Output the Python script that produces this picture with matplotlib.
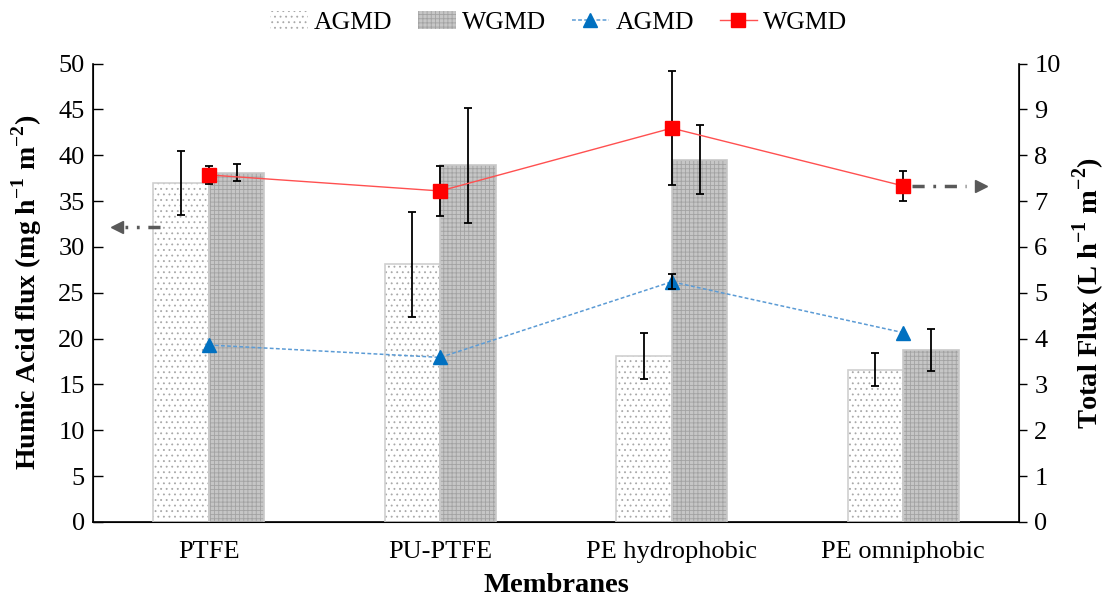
import matplotlib
matplotlib.use("Agg")
import matplotlib.pyplot as plt
import numpy as np
from matplotlib.patches import Patch
from matplotlib.lines import Line2D

plt.rcParams['font.family'] = ['Liberation Serif', 'DejaVu Serif']
plt.rcParams['mathtext.fontset'] = 'custom'
plt.rcParams['mathtext.rm'] = 'Liberation Serif'
plt.rcParams['mathtext.bf'] = 'Liberation Serif:bold'
plt.rcParams['hatch.linewidth'] = 0.6

categories = ["PTFE", "PU-PTFE", "PE hydrophobic", "PE omniphobic"]
ha_agmd = [37.0, 28.1, 18.1, 16.6]
ha_agmd_err = [3.5, 5.7, 2.5, 1.8]
ha_wgmd = [38.1, 38.9, 39.5, 18.8]
ha_wgmd_err = [0.95, 6.3, 3.75, 2.3]
tf_agmd = [3.86, 3.59, 5.24, 4.13]
tf_agmd_err = [0.0, 0.0, 0.16, 0.0]
tf_wgmd = [7.57, 7.22, 8.59, 7.33]
tf_wgmd_err = [0.19, 0.55, 1.25, 0.32]

FS_TICK = 19
FS_LAB = 20.5

fig = plt.figure(figsize=(11.09, 6.01), dpi=100)
ax = fig.add_axes([93/1109, 1-522/601, (1019-93)/1109, (522-63.5)/601])
ax2 = ax.twinx()

x = np.arange(len(categories))
w = 0.24
agmd_face, agmd_hatch = 'white', '#a8a8a8'
wgmd_face, wgmd_hatch = '#c6c6c6', '#a2a2a2'
ax.bar(x - w/2, ha_agmd, w, color=agmd_face, edgecolor=agmd_hatch, hatch='...', linewidth=0, zorder=2)
ax.bar(x - w/2, ha_agmd, w, fill=False, edgecolor='#d0d0d0', linewidth=1.2, zorder=3)
ax.bar(x + w/2, ha_wgmd, w, color=wgmd_face, edgecolor=wgmd_hatch, hatch='++++', linewidth=0, zorder=2)
ax.bar(x + w/2, ha_wgmd, w, fill=False, edgecolor='#c8c8c8', linewidth=1.2, zorder=3)
ekw = dict(fmt='none', ecolor='black', elinewidth=1.3, capsize=3, capthick=1.3)
ax.errorbar(x - w/2, ha_agmd, yerr=ha_agmd_err, zorder=4, **ekw)
ax.errorbar(x + w/2, ha_wgmd, yerr=ha_wgmd_err, zorder=4, **ekw)

ax.set_xlim(-0.5, 3.5)
ax.set_ylim(0, 50)
ax.set_yticks(np.arange(0, 51, 5))
ax.set_xticks(x)
ax.set_xticklabels(categories, fontsize=FS_TICK)
ax.tick_params(axis='x', length=0, pad=14)
ax.tick_params(axis='y', direction='in', length=7, labelsize=FS_TICK, width=1, pad=6)
ax.spines['top'].set_visible(False)
ax2.spines['top'].set_visible(False)
for s in ['left', 'bottom']:
    ax.spines[s].set_linewidth(1.2)
ax2.spines['right'].set_linewidth(1.2)

ax2.set_ylim(0, 10)
ax2.set_yticks(np.arange(0, 11, 1))
ax2.tick_params(axis='y', direction='out', length=6, labelsize=FS_TICK, width=1, pad=5)
ax2.plot(x, tf_agmd, color='#5b9bd5', linestyle=(0, (2.5, 1.5)), linewidth=1.1, zorder=5)
ax2.plot(x, tf_agmd, linestyle='none', marker='^', markersize=10, color='#0070c0', zorder=6)
err_a = np.array(tf_agmd_err)
has_err = err_a > 0
ax2.errorbar(x[has_err], np.array(tf_agmd)[has_err], yerr=err_a[has_err], zorder=6, **ekw)
ax2.errorbar(x, tf_wgmd, yerr=tf_wgmd_err, zorder=5, **ekw)
ax2.plot(x, tf_wgmd, color='#ff5050', linewidth=1.0, zorder=5)
ax2.plot(x, tf_wgmd, linestyle='none', marker='s', markersize=10, color='#ff0000', zorder=7)

# axis-pointing arrows (dash-dot with head)
arrow_col = '#595959'
ls_arrow = (0, (3.5, 2.5, 0.8, 2.5))
ax.plot([-0.21, -0.36], [32.2, 32.2], color=arrow_col, linewidth=2.5, linestyle=ls_arrow,
        solid_capstyle='butt', dash_capstyle='butt', zorder=5)
ax.plot([-0.395], [32.2], marker='<', markersize=8, color=arrow_col, linestyle='none', zorder=5)
ax2.plot([3.037, 3.27], [7.33, 7.33], color=arrow_col, linewidth=2.5, linestyle=ls_arrow,
         solid_capstyle='butt', dash_capstyle='butt', zorder=5)
ax2.plot([3.335], [7.33], marker='>', markersize=8, color=arrow_col, linestyle='none', zorder=5)

ax.set_ylabel(r'Humic Acid flux (mg h$^{\mathbf{-1}}$ m$^{\mathbf{-2}}$)', fontsize=20, fontweight='bold', labelpad=10)
ax2.set_ylabel(r'Total Flux (L h$^{\mathbf{-1}}$ m$^{\mathbf{-2}}$)', fontsize=FS_LAB, fontweight='bold', labelpad=7)
ax.set_xlabel('Membranes', fontsize=FS_LAB, fontweight='bold', labelpad=7)

handles = [
    Patch(facecolor=agmd_face, edgecolor=agmd_hatch, hatch='...', linewidth=0),
    Patch(facecolor=wgmd_face, edgecolor=wgmd_hatch, hatch='++++', linewidth=0),
    Line2D([], [], color='#5b9bd5', linestyle=(0, (2.5, 1.5)), linewidth=1.1, marker='^', markersize=10,
           markerfacecolor='#0070c0', markeredgecolor='#0070c0'),
    Line2D([], [], color='#ff5050', linewidth=1.0, marker='s', markersize=10,
           markerfacecolor='#ff0000', markeredgecolor='#ff0000'),
]
fig.legend(handles, ['AGMD', 'WGMD', 'AGMD', 'WGMD'], loc='center', bbox_to_anchor=(0.504, 0.963),
           ncol=4, frameon=False, fontsize=18.5, handlelength=1.45, columnspacing=1.0, handletextpad=0.25)

fig.savefig('out.png', dpi=100)
